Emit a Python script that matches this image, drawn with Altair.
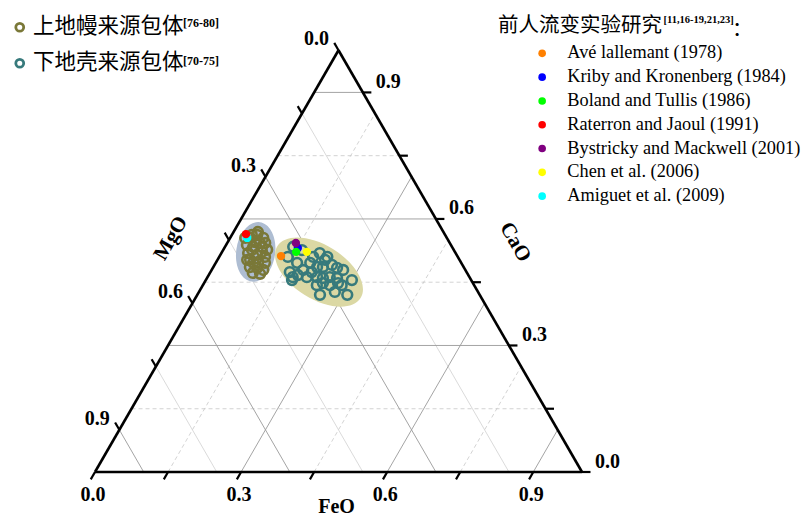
import altair as alt
import numpy as np
import pandas as pd

# ---------------- data (mass fractions) ----------------
mantle_name = "上地幔来源包体"
crust_name = "下地壳来源包体"

mantle_feo = [0.041, 0.052, 0.068, 0.043, 0.058, 0.076, 0.090, 0.055, 0.075, 0.094,
              0.067, 0.086, 0.101, 0.075, 0.091, 0.106, 0.088, 0.104, 0.041, 0.031,
              0.078, 0.061, 0.077, 0.082, 0.059, 0.056, 0.067, 0.050]
mantle_cao = [0.555, 0.562, 0.555, 0.538, 0.534, 0.534, 0.527, 0.519, 0.515, 0.510,
              0.503, 0.498, 0.496, 0.486, 0.484, 0.479, 0.472, 0.470, 0.562, 0.555,
              0.543, 0.503, 0.496, 0.522, 0.527, 0.545, 0.543, 0.569]

crust_feo = [0.140, 0.162, 0.141, 0.167, 0.175, 0.177, 0.188, 0.194, 0.193, 0.202,
             0.222, 0.213, 0.225, 0.241, 0.255, 0.270, 0.225, 0.238, 0.251, 0.267,
             0.234, 0.244, 0.261, 0.275, 0.285, 0.300, 0.308, 0.279, 0.252, 0.221,
             0.204, 0.183, 0.163, 0.208]
crust_cao = [0.534, 0.526, 0.510, 0.496, 0.462, 0.455, 0.479, 0.496, 0.510, 0.519,
             0.510, 0.486, 0.486, 0.491, 0.484, 0.479, 0.462, 0.460, 0.462, 0.460,
             0.443, 0.448, 0.443, 0.448, 0.443, 0.455, 0.420, 0.427, 0.420, 0.503,
             0.462, 0.467, 0.474, 0.474]

study_names = ["Avé lallemant (1978)", "Kriby and Kronenberg (1984)", "Boland and Tullis (1986)",
               "Raterron and Jaoul (1991)", "Bystricky and Mackwell (2001)", "Chen et al. (2006)",
               "Amiguet et al. (2009)"]
study_colors = ["#ff8000", "#0000ff", "#00ff00", "#ff0000", "#800080", "#ffff00", "#00ffff"]
study_feo = [0.126, 0.151, 0.152, 0.028, 0.141, 0.174, 0.035]
study_cao = [0.512, 0.531, 0.522, 0.564, 0.543, 0.522, 0.555]
study_draw_order = [6, 1, 0, 2, 4, 5, 3]   # cyan under red, blue under purple/green

# field centres of the two inclusion groups (FeO, CaO)
mantle_field = (0.069, 0.522)
crust_field = (0.223, 0.474)

grid_values = [0.15, 0.3, 0.45, 0.6, 0.75, 0.9]
major_values = [0.3, 0.6, 0.9]
tick_values = [0.0, 0.15, 0.3, 0.45, 0.6, 0.75, 0.9]
label_values = [0.0, 0.3, 0.6, 0.9]

title_right = "前人流变实验研究"
sup_right = "[11,16-19,21,23]"
sup_mantle = "[76-80]"
sup_crust = "[70-75]"

# ---------------- geometry helpers ----------------
S3 = np.sqrt(3) / 2


def tern_xy(feo, cao):
    feo = np.asarray(feo, float)
    cao = np.asarray(cao, float)
    return feo + cao / 2, cao * S3


PX = 487.0            # pixels per unit side
W, H = 795, 509
X0, Y0 = 87.0, 464.0  # where the MgO corner sits in the view
xscale = alt.Scale(domain=[-X0 / PX, (W - X0) / PX], nice=False, zero=False)
yscale = alt.Scale(domain=[(Y0 - H) / PX, Y0 / PX], nice=False, zero=False)


def ex(f="X"):
    return alt.X(f"{f}:Q", scale=xscale, axis=None)


def ey(f="Y"):
    return alt.Y(f"{f}:Q", scale=yscale, axis=None)


# line of constant component value -> two end points (FeO, CaO)
def line_ends(comp, v):
    if comp == "CaO":
        return (0.0, v), (1 - v, v)
    if comp == "FeO":
        return (v, 0.0), (v, 1 - v)
    return (1 - v, 0.0), (0.0, 1 - v)   # MgO


rows = []
for comp in ["MgO", "FeO", "CaO"]:
    for v in [0.0] + grid_values:
        (f1, c1), (f2, c2) = line_ends(comp, v)
        x1, y1 = tern_xy(f1, c1)
        x2, y2 = tern_xy(f2, c2)
        kind = "edge" if v == 0 else ("major" if v in major_values else ("minorMg" if comp == "MgO" else "minor"))
        rows.append(dict(comp=comp, v=v, X=float(x1), Y=float(y1), X2=float(x2), Y2=float(y2), kind=kind))
lines = pd.DataFrame(rows)

TL = 8.5 / PX
dirs = {"FeO": (-0.5, -S3), "MgO": (-0.5, S3), "CaO": (1.0, 0.0)}


def base_point(comp, v):
    if comp == "FeO":
        return tern_xy(v, 0.0)
    if comp == "MgO":
        return tern_xy(0.0, 1 - v)
    return tern_xy(1 - v, v)


trows = []
for comp in ["FeO", "MgO", "CaO"]:
    for v in tick_values:
        bx, by = base_point(comp, v)
        d = dirs[comp]
        trows.append(dict(X=float(bx), Y=float(by), X2=float(bx + d[0] * TL), Y2=float(by + d[1] * TL)))
ticks = pd.DataFrame(trows)


def labels_df(comp):
    r = []
    for v in label_values:
        bx, by = base_point(comp, v)
        r.append(dict(X=float(bx), Y=float(by), t=f"{v:.1f}"))
    return pd.DataFrame(r)


incl = pd.DataFrame({
    "group": [mantle_name] * len(mantle_feo) + [crust_name] * len(crust_feo),
    "FeO": mantle_feo + crust_feo,
    "CaO": mantle_cao + crust_cao,
})
incl["MgO"] = 1 - incl.FeO - incl.CaO
incl["X"], incl["Y"] = tern_xy(incl.FeO, incl.CaO)

studies = pd.DataFrame({"study": study_names, "FeO": study_feo, "CaO": study_cao})
studies = studies.iloc[study_draw_order].reset_index(drop=True)
studies["X"], studies["Y"] = tern_xy(studies.FeO, studies.CaO)

fields = pd.DataFrame({"name": [mantle_name, crust_name],
                       "FeO": [mantle_field[0], crust_field[0]],
                       "CaO": [mantle_field[1], crust_field[1]]})
fields["X"], fields["Y"] = tern_xy(fields.FeO, fields.CaO)


def ellipse_path(rx, ry):
    k = 0.5523
    return (f"M {rx} 0 C {rx} {k*ry} {k*rx} {ry} 0 {ry} "
            f"C {-k*rx} {ry} {-rx} {k*ry} {-rx} 0 "
            f"C {-rx} {-k*ry} {-k*rx} {-ry} 0 {-ry} "
            f"C {k*rx} {-ry} {rx} {-k*ry} {rx} 0 Z")


# ---------------- layers ----------------
def rule_layer(df, color, width, dash=None):
    kw = dict(color=color, strokeWidth=width)
    if dash:
        kw["strokeDash"] = dash
    return alt.Chart(df).mark_rule(**kw).encode(x=ex("X"), y=ey("Y"), x2="X2:Q", y2="Y2:Q")


grid_minor_mg = rule_layer(lines[lines.kind == "minorMg"], "#d0d0d0", 0.8)
grid_minor = rule_layer(lines[lines.kind == "minor"], "#c8c8c8", 0.8, [4, 3])
grid_major = rule_layer(lines[lines.kind == "major"], "#9a9a9a", 0.9)
edges = rule_layer(lines[lines.kind == "edge"], "#000000", 2.6)
tick_layer = rule_layer(ticks, "#000000", 2.2)

ell_mantle = alt.Chart(fields[fields.name == mantle_name]).mark_point(
    shape=ellipse_path(0.65, 1.0), size=3600, filled=True, fill="#aebdd2",
    strokeWidth=0, opacity=1, angle=8
).encode(x=ex(), y=ey())
ell_crust = alt.Chart(fields[fields.name == crust_name]).mark_point(
    shape=ellipse_path(1.0, 0.55), size=9604, filled=True, fill="#dbd8a4",
    strokeWidth=0, opacity=1, angle=32
).encode(x=ex(), y=ey())

circles = alt.Chart(incl).mark_point(filled=False, size=95, strokeWidth=2.6, opacity=1).encode(
    x=ex(), y=ey(),
    stroke=alt.Stroke("group:N",
                      scale=alt.Scale(domain=[mantle_name, crust_name], range=["#7a7838", "#377a7c"]),
                      legend=alt.Legend(orient="none", legendX=1, legendY=8.5, title=None,
                                        symbolType="circle", symbolSize=62, symbolStrokeWidth=2.8,
                                        labelFont="Noto Sans CJK SC", labelFontSize=21.5,
                                        labelColor="#000000", labelOffset=2.5, rowPadding=13,
                                        padding=0, labelLimit=300)),
)

study_pts = alt.Chart(studies).mark_circle(size=70, opacity=1).encode(
    x=ex(), y=ey(),
    fill=alt.Fill("study:N",
                  scale=alt.Scale(domain=study_names, range=study_colors),
                  legend=alt.Legend(orient="none", legendX=525, legendY=36.2, title=None,
                                    symbolType="circle", symbolSize=58, symbolStrokeWidth=0,
                                    labelFont="Liberation Serif", labelFontSize=18.3,
                                    labelColor="#000000", labelOffset=16, rowPadding=4.8,
                                    padding=0, labelLimit=400)),
)

lab_kw = dict(font="Liberation Serif", fontWeight="bold", fontSize=20, color="#000000",
              align="center", baseline="middle")
lab_fe = alt.Chart(labels_df("FeO")).mark_text(dx=-2, dy=23, **lab_kw).encode(x=ex(), y=ey(), text="t:N")
lab_mg = alt.Chart(labels_df("MgO")).mark_text(dx=-22, dy=-11, **lab_kw).encode(x=ex(), y=ey(), text="t:N")
lab_ca = alt.Chart(labels_df("CaO")).mark_text(dx=25.5, dy=-10.5, **lab_kw).encode(x=ex(), y=ey(), text="t:N")


def title_df(comp, name):
    bx, by = base_point(comp, 0.5)
    return pd.DataFrame({"X": [float(bx)], "Y": [float(by)], "t": [name]})


tit_kw = dict(font="Liberation Serif", fontWeight="bold", fontSize=21, color="#000000",
              align="center", baseline="middle")
tit_fe = alt.Chart(title_df("FeO", "FeO")).mark_text(dx=-2, dy=34.5, **dict(tit_kw, fontSize=20)).encode(
    x=ex(), y=ey(), text="t:N")
tit_mg = alt.Chart(title_df("MgO", "MgO")).mark_text(angle=300, dx=-3, dy=-51, **tit_kw).encode(x=ex(), y=ey(), text="t:N")
tit_ca = alt.Chart(title_df("CaO", "CaO")).mark_text(angle=60, dx=11, dy=-57, **tit_kw).encode(x=ex(), y=ey(), text="t:N")


def note(text, x, y, **kw):
    return alt.Chart(pd.DataFrame({"t": [text]})).mark_text(color="#000000", **kw).encode(
        x=alt.value(x), y=alt.value(y), text="t:N")


n_title = note(title_right, 490, 18, font="Noto Sans CJK SC", fontSize=20.5, align="left", baseline="middle")
n_sup_r = note(sup_right, 655.5, 7, font="Liberation Serif", fontWeight="bold", fontSize=10.5,
               align="left", baseline="top")
n_colon = note("：", 724, 22, font="Noto Sans CJK SC", fontSize=20.5, align="left", baseline="middle")
n_sup_m = note(sup_mantle, 175, 9.5, font="Liberation Serif", fontWeight="bold", fontSize=12,
               align="left", baseline="top")
n_sup_c = note(sup_crust, 175, 47.5, font="Liberation Serif", fontWeight="bold", fontSize=12,
               align="left", baseline="top")

chart = alt.layer(
    grid_minor_mg, grid_minor, grid_major, ell_mantle, ell_crust, edges, tick_layer,
    circles, study_pts, lab_fe, lab_mg, lab_ca, tit_fe, tit_mg, tit_ca,
    n_title, n_sup_r, n_colon, n_sup_m, n_sup_c,
).resolve_legend(stroke="independent", fill="independent").properties(
    width=W, height=H, autosize=alt.AutoSizeParams(type="none"), padding=0,
).configure_view(strokeWidth=0)

chart.save("out.html", embed_options={"renderer": "svg", "actions": False})
